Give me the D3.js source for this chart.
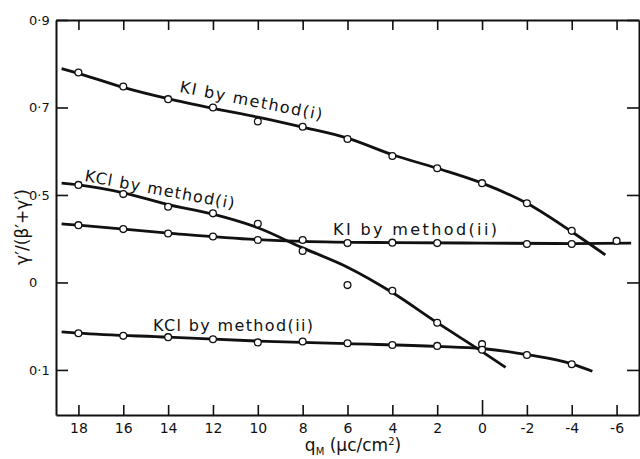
<!DOCTYPE html>
<html>
<head>
    <meta charset="UTF-8">
    <title>Surface excess ratio vs electrode charge</title>
    <script src="https://d3js.org/d3.v7.min.js"></script>
    <style>
        body { margin: 0; background: #fff; }
        text { font-family: "DejaVu Sans", sans-serif; fill: #111; }
    </style>
</head>
<body>
<div id="chartContainer"></div>
<script type="text/javascript">

// ticks
var xTicks = [18, 16, 14, 12, 10, 8, 6, 4, 2, 0, -2, -4, -6];
var xTickLabels = ["18", "16", "14", "12", "10", "8", "6", "4", "2", "0", "-2", "-4", "-6"];
var yTicks = [0.1, 0.3, 0.5, 0.7, 0.9];
var yTickLabels = ["0·1", "0", "0·5", "0·7", "0·9"];

// measured points (q_M in uC/cm2, ratio)
var kiM1Q = [18, 16, 14, 12, 10, 8, 6, 4, 2, 0, -2, -4];
var kiM1Val = [0.780, 0.748, 0.719, 0.700, 0.668, 0.656, 0.628, 0.589, 0.561, 0.527, 0.481, 0.418];
var kiM2Q = [18, 16, 14, 12, 10, 8, 6, 4, 2, -2, -4, -6];
var kiM2Val = [0.431, 0.422, 0.412, 0.405, 0.397, 0.397, 0.390, 0.391, 0.390, 0.388, 0.388, 0.395];
var kclM1Q = [18, 16, 14, 12, 10, 8, 6, 4, 2, 0];
var kclM1Val = [0.523, 0.502, 0.473, 0.458, 0.434, 0.372, 0.294, 0.281, 0.208, 0.159];
var kclM2Q = [18, 16, 14, 12, 10, 8, 6, 4, 2, 0, -2, -4];
var kclM2Val = [0.184, 0.178, 0.175, 0.170, 0.163, 0.165, 0.161, 0.157, 0.155, 0.146, 0.134, 0.113];

// hand drawn curves through the points
var kiM1FitQ = [18.75, 18, 16, 14, 12, 10, 8, 6, 4, 2, 0, -2, -4, -5.5];
var kiM1FitVal = [0.789, 0.778, 0.746, 0.720, 0.698, 0.678, 0.655, 0.630, 0.592, 0.561, 0.527, 0.481, 0.416, 0.363];
var kiM2FitQ = [18.75, 18, 14, 10, 8, 4, 0, -4, -6.65];
var kiM2FitVal = [0.434, 0.431, 0.413, 0.398, 0.394, 0.391, 0.390, 0.389, 0.390];
var kclM1FitQ = [18.75, 18, 16, 14, 12, 10, 8, 6, 4, 2, 0, -1.05];
var kclM1FitVal = [0.527, 0.523, 0.505, 0.478, 0.456, 0.425, 0.379, 0.335, 0.277, 0.208, 0.142, 0.106];
var kclM2FitQ = [18.75, 18, 14, 10, 6, 2, 0, -2, -4, -4.92];
var kclM2FitVal = [0.187, 0.184, 0.175, 0.166, 0.160, 0.154, 0.149, 0.135, 0.114, 0.097];

function pairs(qs, vs) {
    return qs.map(function (q, i) { return {q: q, v: vs[i]}; });
}

function draw_chart() {
    var margin = {top: 20, left: 56};
    var width = 583, height = 395;

    var svg = d3.select("#chartContainer").append("svg")
        .attr("width", 640).attr("height", 459);
    var g = svg.append("g")
        .attr("transform", "translate(" + margin.left + "," + margin.top + ")");

    var x = d3.scaleLinear().domain([19, -7]).range([0, width]);
    var y = d3.scaleLinear().domain([-0.003, 0.9]).range([height, 0]);

    //axes, ticks pointing inward on all four sides
    var bottom = g.append("g").attr("transform", "translate(0," + height + ")")
        .call(d3.axisBottom(x).tickValues(xTicks).tickSizeInner(-10).tickSizeOuter(0).tickPadding(8)
            .tickFormat(function (d, i) { return xTickLabels[i]; }));
    bottom.selectAll(".tick line").filter(function (d) { return d === 0; }).attr("y2", -15);

    g.append("g")
        .call(d3.axisTop(x).tickValues(xTicks).tickSizeInner(-10).tickSizeOuter(0).tickFormat(""));

    var left = g.append("g")
        .call(d3.axisLeft(y).tickValues(yTicks).tickSizeInner(-12).tickSizeOuter(0)
            .tickFormat(function (d, i) { return yTickLabels[i]; }));
    left.selectAll(".tick text").attr("x", -27).attr("text-anchor", "start");

    g.append("g").attr("transform", "translate(" + width + ",0)")
        .call(d3.axisRight(y).tickValues(yTicks).tickSizeInner(-12).tickSizeOuter(0).tickFormat(""));

    g.selectAll(".domain").attr("stroke", "#111").attr("stroke-width", 2);
    g.selectAll(".tick line").attr("stroke", "#111").attr("stroke-width", 1.6);
    g.selectAll(".tick text").style("font-family", "DejaVu Sans, sans-serif")
        .style("font-size", "14px").attr("fill", "#111");
    left.selectAll(".tick text").style("font-size", "13px");

    //fitted curves
    var line = d3.line()
        .x(function (d) { return x(d.q); })
        .y(function (d) { return y(d.v); })
        .curve(d3.curveMonotoneX);

    var fits = [pairs(kiM1FitQ, kiM1FitVal), pairs(kiM2FitQ, kiM2FitVal),
                pairs(kclM1FitQ, kclM1FitVal), pairs(kclM2FitQ, kclM2FitVal)];
    g.selectAll("path.fit").data(fits).enter().append("path")
        .attr("class", "fit")
        .attr("d", line)
        .attr("fill", "none")
        .attr("stroke", "#111")
        .attr("stroke-width", 2.8);

    //open circles
    var points = [].concat(pairs(kiM1Q, kiM1Val), pairs(kiM2Q, kiM2Val),
                           pairs(kclM1Q, kclM1Val), pairs(kclM2Q, kclM2Val));
    g.selectAll("circle").data(points).enter().append("circle")
        .attr("cx", function (d) { return x(d.q); })
        .attr("cy", function (d) { return y(d.v); })
        .attr("r", 3.4)
        .attr("fill", "#fff")
        .attr("stroke", "#111")
        .attr("stroke-width", 1.3);

    //curve labels
    svg.append("text").attr("transform", "translate(179,92) rotate(11.2)")
        .attr("textLength", 145).attr("lengthAdjust", "spacing")
        .style("font-size", "16px").text("KI by method(i)");
    svg.append("text").attr("transform", "translate(84,181) rotate(10.6)")
        .attr("textLength", 152).attr("lengthAdjust", "spacing")
        .style("font-size", "16px").text("KCl by method(i)");
    svg.append("text").attr("x", 333).attr("y", 235)
        .attr("textLength", 164).attr("lengthAdjust", "spacing")
        .style("font-size", "16px").text("KI by method(ii)");
    svg.append("text").attr("x", 153).attr("y", 331)
        .attr("textLength", 160).attr("lengthAdjust", "spacing")
        .style("font-size", "16px").text("KCl by method(ii)");

    //axis titles
    svg.append("text").attr("transform", "translate(28,227) rotate(-90)")
        .attr("text-anchor", "middle")
        .style("font-size", "17px").text("γ′/(β′+γ′)");

    var xt = svg.append("text").attr("x", 353).attr("y", 451)
        .attr("text-anchor", "middle").style("font-size", "17px");
    xt.append("tspan").text("q");
    xt.append("tspan").attr("dy", 4).style("font-size", "10px").text("M");
    xt.append("tspan").attr("dy", -4).text(" (μc/cm");
    xt.append("tspan").attr("dy", -6).style("font-size", "10px").text("2");
    xt.append("tspan").attr("dy", 6).text(")");
}

draw_chart();
</script>
</body>
</html>
